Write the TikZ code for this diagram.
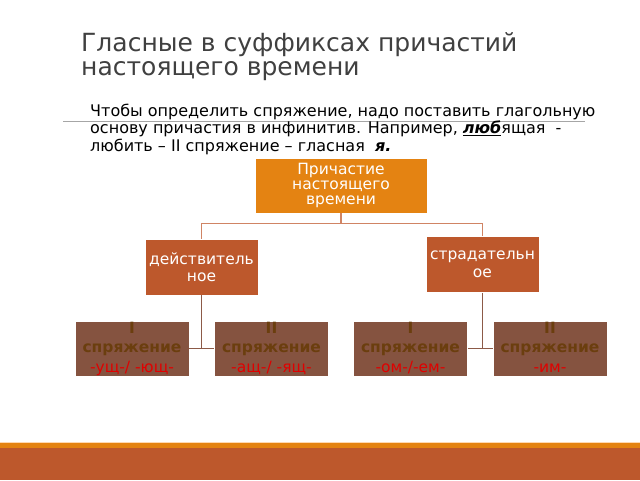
\documentclass[tikz,border=0pt]{standalone}
\usepackage{fontspec}
\setmainfont{DejaVu Sans}
\definecolor{orangebox}{HTML}{E48312}
\definecolor{rustbox}{HTML}{BD582C}
\definecolor{brownbox}{HTML}{855340}
\definecolor{conjtext}{HTML}{6B3E0E}
\definecolor{suffred}{HTML}{E00000}
\definecolor{titlegray}{HTML}{404040}
\definecolor{lineA}{HTML}{D08464}
\definecolor{lineB}{HTML}{8C5A48}
\tikzset{
  titleline/.style={anchor=base west, inner sep=0pt, text=titlegray, font=\fontsize{25}{24}\selectfont},
  bodyline/.style={anchor=base west, inner sep=0pt, font=\fontsize{16}{17.5}\selectfont},
  topbox/.style={fill=orangebox, draw=white, line width=0.6pt, text=white, minimum width=172pt, minimum height=55pt, align=center, inner sep=0pt, font=\fontsize{15.5}{15}\selectfont},
  midbox/.style={fill=rustbox, draw=white, line width=0.6pt, text=white, minimum width=113pt, minimum height=56pt, align=center, inner sep=0pt, font=\fontsize{15.5}{17.5}\selectfont},
  lowbox/.style={fill=brownbox, draw=white, line width=0.6pt, minimum width=114pt, minimum height=55pt, inner sep=0pt},
  conj/.style={anchor=base, inner sep=0pt, text=conjtext, font=\bfseries\fontsize{15.5}{15}\selectfont},
  suff/.style={anchor=base, inner sep=0pt, text=suffred, font=\fontsize{15.5}{15}\selectfont},
  connA/.style={draw=lineA, line width=1.6pt},
  connB/.style={draw=lineB, line width=1.6pt}
}
\begin{document}
\begin{tikzpicture}[x=1pt,y=-1pt]
\useasboundingbox (0,0) rectangle (640,480);
\fill[white] (0,0) rectangle (640,480);
% title
\node[titleline] (title1) at (81,51) {Гласные в суффиксах причастий};
\node[titleline] (title2) at (81,75) {настоящего времени};
% rule
\draw[gray!70, line width=0.8pt] (63,121.5) -- (585,121.5);
% body
\node[bodyline] (body1) at (90,116) {Чтобы определить спряжение, надо поставить глагольную};
\node[bodyline] (body2) at (90,133.5) {основу причастия в инфинитив. Например, \underline{\textbf{\textit{люб}}}ящая~~-};
\node[bodyline] (body3) at (90,151) {любить – II спряжение – гласная~~\textbf{\textit{я.}}};
% boxes
\node[topbox] (top) at (341,185.5) {Причастие\\настоящего\\времени};
\node[midbox] (act) at (201.5,267) {действитель\\ное};
\node[midbox] (pas) at (482.5,264.5) {страдательн\\ое};
\node[lowbox] (b1) at (132,348.5) {};
\node[lowbox] (b2) at (271.5,348.5) {};
\node[lowbox] (b3) at (410.5,348.5) {};
\node[lowbox] (b4) at (550,348.5) {};
\foreach \b/\r/\s in {b1/I/{-ущ-/ -ющ-}, b2/II/{-ащ-/ -ящ-}, b3/I/{-ом-/-ем-}, b4/II/{-им-}}{
  \node[conj] at ([yshift=-13pt]\b.north) {\r};
  \node[conj] at ([yshift=-31.5pt]\b.north) {спряжение};
  \node[suff] at ([yshift=-52pt]\b.north) {\s};
}
% connectors
\coordinate (fork) at ([yshift=-10pt]top.south);
\draw[connA] (top.south) -- (fork) -| (act.north);
\draw[connA] (fork) -| (pas.north);
\draw[connB] (act.south) -- (act.south |- b1.east);
\draw[connB] (b1.east) -- (b2.west);
\draw[connB] (pas.south) -- (pas.south |- b3.east);
\draw[connB] (b3.east) -- (b4.west);
% bottom band
\fill[orange!30] (0,442) rectangle (640,443);
\fill[orangebox] (0,443) rectangle (640,448);
\fill[rustbox] (0,448) rectangle (640,480);
\end{tikzpicture}
\end{document}
